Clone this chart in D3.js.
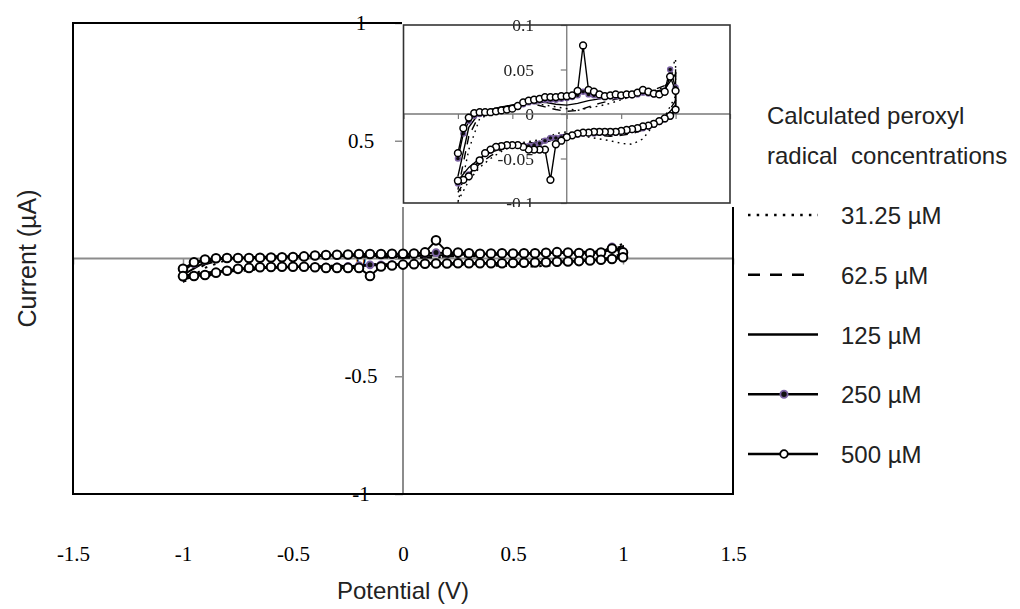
<!DOCTYPE html>
<html><head><meta charset="utf-8">
<script src="https://cdn.jsdelivr.net/npm/d3@7"></script>
<style>
html,body{margin:0;padding:0;background:#fff;}
svg{display:block;}
</style></head><body>
<svg id="chart" width="1020" height="609"></svg>
<script>
// Potential sweep grids (V)
const potFine = [-1.00,-0.95,-0.90,-0.85,-0.80,-0.75,-0.70,-0.65,-0.60,-0.55,-0.50,-0.45,-0.40,-0.35,-0.30,-0.25,-0.20,-0.15,-0.10,-0.05,0.00,0.05,0.10,0.15,0.20,0.25,0.30,0.35,0.40,0.45,0.50,0.55,0.60,0.65,0.70,0.75,0.80,0.85,0.90,0.95,1.00];
const potCoarse = [-1.0,-0.9,-0.8,-0.7,-0.6,-0.5,-0.4,-0.3,-0.2,-0.1,0.0,0.1,0.2,0.3,0.4,0.5,0.6,0.7,0.8,0.9,1.0];

// Currents (µA): forward sweep listed from -1 V up, return sweep listed from +1 V down
const c31Fwd = [-0.100,-0.040,-0.005,0.000,0.005,0.008,0.012,0.012,0.010,0.008,0.006,0.004,0.007,0.009,0.012,0.016,0.020,0.024,0.026,0.030,0.062];
const c31Rev = [0.020,-0.003,-0.012,-0.028,-0.034,-0.033,-0.030,-0.028,-0.026,-0.022,-0.020,-0.022,-0.028,-0.030,-0.032,-0.036,-0.042,-0.050,-0.060,-0.075,-0.098];
const c62Fwd = [-0.085,-0.025,0.000,0.004,0.008,0.010,0.012,0.011,0.008,0.005,0.003,0.004,0.008,0.012,0.015,0.018,0.022,0.025,0.027,0.032,0.052];
const c62Rev = [0.015,-0.004,-0.012,-0.018,-0.022,-0.024,-0.025,-0.024,-0.022,-0.021,-0.022,-0.026,-0.030,-0.032,-0.033,-0.035,-0.040,-0.047,-0.056,-0.068,-0.088];
const c125Fwd = [-0.070,-0.015,0.002,0.005,0.008,0.010,0.013,0.014,0.013,0.011,0.010,0.012,0.015,0.017,0.019,0.020,0.022,0.024,0.025,0.028,0.045];
const c125Rev = [0.010,-0.004,-0.010,-0.014,-0.017,-0.019,-0.020,-0.021,-0.021,-0.022,-0.024,-0.028,-0.032,-0.034,-0.035,-0.036,-0.039,-0.043,-0.050,-0.060,-0.075];
const c250Fwd = [-0.050,-0.022,-0.008,-0.002,0.000,0.001,0.002,0.003,0.004,0.005,0.006,0.008,0.011,0.013,0.014,0.015,0.016,0.016,0.016,0.017,0.018,0.019,0.021,0.025,0.022,0.021,0.020,0.019,0.020,0.020,0.020,0.021,0.021,0.022,0.024,0.023,0.022,0.022,0.026,0.050,0.030];
const c250Rev = [0.004,-0.003,-0.006,-0.009,-0.012,-0.014,-0.016,-0.017,-0.018,-0.019,-0.020,-0.021,-0.021,-0.021,-0.021,-0.022,-0.022,-0.022,-0.023,-0.024,-0.025,-0.026,-0.027,-0.027,-0.030,-0.033,-0.035,-0.036,-0.036,-0.035,-0.035,-0.036,-0.037,-0.038,-0.041,-0.045,-0.052,-0.060,-0.068,-0.074,-0.078];
const c500Fwd = [-0.044,-0.016,-0.004,0.001,0.002,0.002,0.002,0.003,0.004,0.005,0.006,0.009,0.013,0.015,0.016,0.017,0.019,0.019,0.019,0.020,0.020,0.021,0.026,0.077,0.027,0.025,0.022,0.020,0.021,0.022,0.021,0.022,0.022,0.024,0.027,0.025,0.023,0.022,0.025,0.042,0.026];
const c500Rev = [0.005,-0.002,-0.005,-0.008,-0.011,-0.013,-0.014,-0.016,-0.017,-0.018,-0.019,-0.020,-0.020,-0.020,-0.020,-0.020,-0.021,-0.021,-0.022,-0.024,-0.026,-0.030,-0.034,-0.074,-0.040,-0.040,-0.040,-0.040,-0.037,-0.035,-0.035,-0.035,-0.036,-0.037,-0.040,-0.044,-0.052,-0.060,-0.070,-0.074,-0.075];

const seriesNames = ["31.25 \u00b5M","62.5 \u00b5M","125 \u00b5M","250 \u00b5M","500 \u00b5M"];
const xTicks = [-1.5,-1,-0.5,0,0.5,1,1.5];
const xTickLabels = ["-1.5","-1","-0.5","0","0.5","1","1.5"];
const yTicks = [-1,-0.5,0,0.5,1];
const yTickLabels = ["-1","-0.5","0","0.5","1"];
const insetYTicks = [-0.1,-0.05,0,0.05,0.1];
const insetYTickLabels = ["-0.1","-0.05","0","0.05","0.1"];
const insetXTicks = [-1.5,-1,-0.5,0,0.5,1,1.5];
const legendTitle = ["Calculated peroxyl","radical  concentrations"];

// closed voltammogram loop: forward sweep then return sweep
function loop(pot, fwd, rev) {
  const back = pot.slice().reverse();
  return fwd.map((c, i) => ({v: pot[i], c}))
    .concat(rev.map((c, i) => ({v: back[i], c})));
}
const series = [
  {name: seriesNames[0], pts: loop(potCoarse, c31Fwd, c31Rev), dash: "2.5,6.2", marker: null},
  {name: seriesNames[1], pts: loop(potCoarse, c62Fwd, c62Rev), dash: "12,10", marker: null},
  {name: seriesNames[2], pts: loop(potCoarse, c125Fwd, c125Rev), dash: null, marker: null},
  {name: seriesNames[3], pts: loop(potFine, c250Fwd, c250Rev), dash: null, marker: "dot"},
  {name: seriesNames[4], pts: loop(potFine, c500Fwd, c500Rev), dash: null, marker: "open"}
];

const svg = d3.select("#chart");
const SERIF = "'Liberation Serif','Times New Roman',serif";
const SANS = "'Liberation Sans',Arial,sans-serif";
const AXIS_GREY = "#8c8c8c";
const PURPLE = "#7b62a3";

// ---------- main plot ----------
const x = d3.scaleLinear().domain([-1.5, 1.5]).range([73, 733]);
const y = d3.scaleLinear().domain([-1, 1]).range([494, 23]);

const main = svg.append("g");

// tick labels, placed away from the crossing axes
const xLab = main.append("g").attr("transform", "translate(0,543)")
  .call(d3.axisBottom(x).tickValues(xTicks).tickSize(0)
    .tickFormat((d, i) => xTickLabels[i]));
xLab.select(".domain").remove();
xLab.selectAll("text").attr("font-family", SERIF).attr("font-size", 21).attr("fill", "#000");

const yLab = main.append("g").attr("transform", "translate(361,0)")
  .call(d3.axisLeft(y).tickValues(yTicks).tickSize(0).tickPadding(0)
    .tickFormat((d, i) => yTickLabels[i]));
yLab.select(".domain").remove();
yLab.selectAll("text").attr("font-family", SERIF).attr("font-size", 21)
  .attr("fill", "#000").attr("text-anchor", "middle");

// axes through the origin
const xAx = main.append("g").attr("transform", `translate(0,${y(0)})`)
  .call(d3.axisBottom(x).tickValues(xTicks).tickSize(6).tickFormat(""));
xAx.select(".domain").attr("stroke", AXIS_GREY).attr("stroke-width", 2).attr("d", `M${x(-1.5)},0H${x(1.5)}`);
xAx.selectAll(".tick line").attr("stroke", AXIS_GREY).attr("stroke-width", 1.5);

const yAx = main.append("g").attr("transform", `translate(${x(0)},0)`)
  .call(d3.axisLeft(y).tickValues(yTicks).tickSize(8).tickFormat(""));
yAx.select(".domain").attr("stroke", AXIS_GREY).attr("stroke-width", 2).attr("d", `M0,${y(1)}V${y(-1)}`);
yAx.selectAll(".tick line").attr("stroke", AXIS_GREY).attr("stroke-width", 1.5);

function drawSeries(g, xs, ys, lw, rOpen, rDot, swOpen) {
  const line = d3.line().x(d => xs(d.v)).y(d => ys(d.c));
  series.forEach(s => {
    g.append("path").attr("d", line(s.pts)).attr("fill", "none")
      .attr("stroke", "#000").attr("stroke-width", lw)
      .attr("stroke-dasharray", s.dash ? s.dash.split(",").map(v => +v * lw / 2).join(",") : null);
    if (s.marker === "dot") {
      g.selectAll(null).data(s.pts).join("circle")
        .attr("cx", d => xs(d.v)).attr("cy", d => ys(d.c)).attr("r", rDot)
        .attr("fill", "#111").attr("stroke", PURPLE).attr("stroke-width", swOpen * 0.9);
    } else if (s.marker === "open") {
      g.selectAll(null).data(s.pts).join("circle")
        .attr("cx", d => xs(d.v)).attr("cy", d => ys(d.c)).attr("r", rOpen)
        .attr("fill", "#fff").attr("stroke", "#000").attr("stroke-width", swOpen);
    }
  });
}
drawSeries(main.append("g"), x, y, 2, 4.3, 3.4, 2);

// plot frame
main.append("rect").attr("x", x(-1.5)).attr("y", y(1))
  .attr("width", x(1.5) - x(-1.5)).attr("height", y(-1) - y(1))
  .attr("fill", "none").attr("stroke", "#000").attr("stroke-width", 2);

// axis titles
svg.append("text").attr("x", x(0)).attr("y", 599).attr("text-anchor", "middle")
  .attr("font-family", SANS).attr("font-size", 24).attr("fill", "#222")
  .text("Potential (V)");
svg.append("text").attr("transform", `translate(36,${y(0)}) rotate(-90)`)
  .attr("text-anchor", "middle").attr("font-family", SANS).attr("font-size", 25)
  .attr("fill", "#222").text("Current (\u00b5A)");

// ---------- inset: enlarged view of the same voltammograms ----------
const ix = d3.scaleLinear().domain([-1.5, 1.5]).range([403.5, 730]);
const iy = d3.scaleLinear().domain([-0.1, 0.1]).range([203, 25]);

const defs = svg.append("defs");
defs.append("filter").attr("id", "soft").attr("x", "-5%").attr("y", "-5%")
  .attr("width", "110%").attr("height", "110%")
  .append("feGaussianBlur").attr("stdDeviation", 0.45);
defs.append("clipPath").attr("id", "insetImg").append("rect")
  .attr("x", 402).attr("y", 10).attr("width", 334).attr("height", 197);
defs.append("clipPath").attr("id", "insetPlot").append("rect")
  .attr("x", ix(-1.5)).attr("y", iy(0.1)).attr("width", ix(1.5) - ix(-1.5)).attr("height", iy(-0.1) - iy(0.1));

const inset = svg.append("g").attr("clip-path", "url(#insetImg)")
  .append("g").attr("filter", "url(#soft)");
inset.append("rect").attr("x", 402).attr("y", 10).attr("width", 334).attr("height", 197).attr("fill", "#fff");

const iyLab = inset.append("g").attr("transform", `translate(534,0)`)
  .call(d3.axisLeft(iy).tickValues(insetYTicks).tickSize(0).tickPadding(0)
    .tickFormat((d, i) => insetYTickLabels[i]));
iyLab.select(".domain").remove();
iyLab.selectAll("text").attr("font-family", SERIF).attr("font-size", 17.5).attr("fill", "#222");

const ixAx = inset.append("g").attr("transform", `translate(0,${iy(0)})`)
  .call(d3.axisBottom(ix).tickValues(insetXTicks).tickSize(5).tickFormat(""));
ixAx.select(".domain").attr("stroke", "#777").attr("stroke-width", 1.3).attr("d", `M${ix(-1.5)},0H${ix(1.5)}`);
ixAx.selectAll(".tick line").attr("stroke", "#777").attr("stroke-width", 1.2);

const iyAx = inset.append("g").attr("transform", `translate(${ix(0)},0)`)
  .call(d3.axisLeft(iy).tickValues(insetYTicks).tickSize(6).tickFormat(""));
iyAx.select(".domain").attr("stroke", "#777").attr("stroke-width", 1.3).attr("d", `M0,${iy(0.1)}V${iy(-0.1)}`);
iyAx.selectAll(".tick line").attr("stroke", "#777").attr("stroke-width", 1.2);

drawSeries(inset.append("g").attr("clip-path", "url(#insetPlot)"), ix, iy, 1.4, 3.4, 2.5, 1.5);

inset.append("rect").attr("x", ix(-1.5)).attr("y", iy(0.1))
  .attr("width", ix(1.5) - ix(-1.5)).attr("height", iy(-0.1) - iy(0.1))
  .attr("fill", "none").attr("stroke", "#333").attr("stroke-width", 1.6);

// ---------- legend ----------
const legend = svg.append("g");
legend.selectAll("text.title").data(legendTitle).join("text")
  .attr("class", "title").attr("x", 767).attr("y", (d, i) => 124 + i * 40)
  .attr("font-family", SANS).attr("font-size", 24).attr("fill", "#222")
  .style("white-space", "pre").text(d => d);

const ly = d3.scalePoint().domain(seriesNames).range([215, 454]);
const item = legend.selectAll("g.item").data(series).join("g")
  .attr("class", "item").attr("transform", d => `translate(0,${ly(d.name)})`);
item.append("line").attr("x1", 748).attr("x2", d => d.dash && d.dash.startsWith("12") ? 808 : 818)
  .attr("stroke", "#000").attr("stroke-width", 2.6)
  .attr("stroke-dasharray", d => d.dash ? d.dash.split(",").map(v => +v).join(",") : null);
item.filter(d => d.marker === "dot").append("circle").attr("cx", 784).attr("r", 3.6)
  .attr("fill", "#111").attr("stroke", PURPLE).attr("stroke-width", 1.8);
item.filter(d => d.marker === "open").append("circle").attr("cx", 784).attr("r", 3.8)
  .attr("fill", "#fff").attr("stroke", "#000").attr("stroke-width", 1.8);
item.append("text").attr("x", 841).attr("y", 9)
  .attr("font-family", SANS).attr("font-size", 24).attr("fill", "#222")
  .text(d => d.name);
</script>
</body></html>
